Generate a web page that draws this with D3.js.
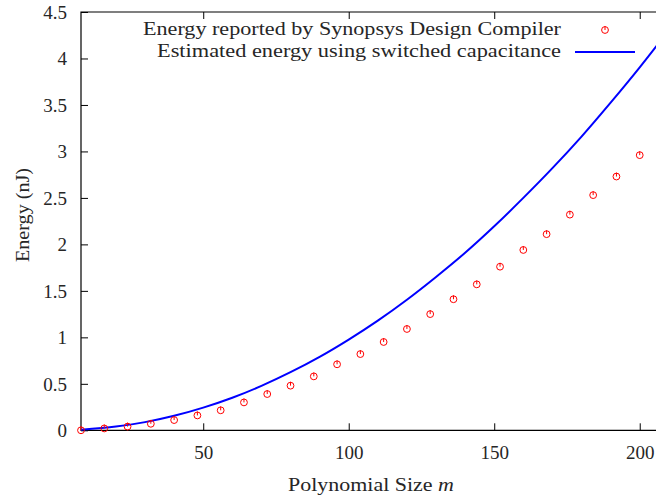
<!DOCTYPE html>
<html>
<head>
<meta charset="utf-8">
<script src="https://cdn.jsdelivr.net/npm/d3@7/dist/d3.min.js"></script>
<style>
  html, body { margin: 0; padding: 0; background: #fff; }
  svg { display: block; }
  text { font-family: "Liberation Serif", "DejaVu Serif", serif; fill: #262626; }
</style>
</head>
<body>
<svg id="chart" width="656" height="499"></svg>
<script>
// Polynomial size m for each synthesised design
const sizeM = [8, 16, 24, 32, 40, 48, 56, 64, 72, 80, 88, 96, 104, 112, 120,
               128, 136, 144, 152, 160, 168, 176, 184, 192, 200];
// Energy reported by Synopsys Design Compiler (nJ)
const compilerEnergy = [0.00, 0.02, 0.04, 0.07, 0.11, 0.16, 0.215, 0.30, 0.39, 0.48,
                        0.58, 0.71, 0.82, 0.95, 1.09, 1.25, 1.41, 1.57, 1.76, 1.94,
                        2.11, 2.32, 2.53, 2.73, 2.96];
// Estimated energy from switched capacitance (nJ)
const estimateM = [8, 20, 30, 40, 50, 60, 70, 80, 90, 100, 110, 120, 130, 140,
                   150, 160, 170, 180, 190, 200, 208];
const estimateEnergy = [0.006, 0.04, 0.088, 0.156, 0.244, 0.35, 0.478, 0.625, 0.79, 0.976,
                        1.18, 1.405, 1.65, 1.91, 2.195, 2.50, 2.82, 3.16, 3.525, 3.905, 4.225];
const xTicks = [50, 100, 150, 200];
const yTicks = [0, 0.5, 1, 1.5, 2, 2.5, 3, 3.5, 4, 4.5];
const yTickLabels = ["0", "0.5", "1", "1.5", "2", "2.5", "3", "3.5", "4", "4.5"];
const legendLabels = ["Energy reported by Synopsys Design Compiler",
                      "Estimated energy using switched capacitance"];

const svg = d3.select("#chart");
const plotLeft = 81, plotRight = 663, plotTop = 12, plotBottom = 430.3;

const x = d3.scaleLinear().domain([8, 208]).range([plotLeft, plotRight]);
const y = d3.scaleLinear().domain([0, 4.5]).range([plotBottom, plotTop]);

const fontSize = 18;
const tickFont = 19;
const tickLen = 7;

// frame
svg.append("path")
  .attr("d", `M${plotRight},${plotTop}H${plotLeft}V${plotBottom}H${plotRight}`)
  .attr("fill", "none").attr("stroke", "#000").attr("stroke-width", 1.2);

// y axis (inward ticks)
const yAxis = d3.axisLeft(y).tickValues(yTicks)
  .tickFormat((d, i) => yTickLabels[i]).tickSize(-tickLen).tickPadding(14);
const gy = svg.append("g").attr("transform", `translate(${plotLeft},0)`).call(yAxis);
gy.select(".domain").remove();
gy.selectAll(".tick line").attr("stroke", "#000");
gy.selectAll(".tick text").attr("font-size", tickFont).attr("font-family", null)
  .attr("fill", "#262626").attr("dy", "0.34em");

// x axis bottom (inward ticks)
const xAxis = d3.axisBottom(x).tickValues(xTicks).tickFormat(d3.format("d"))
  .tickSize(-tickLen).tickPadding(15);
const gx = svg.append("g").attr("transform", `translate(0,${plotBottom})`).call(xAxis);
gx.select(".domain").remove();
gx.selectAll(".tick line").attr("stroke", "#000");
gx.selectAll(".tick text").attr("font-size", tickFont).attr("font-family", null)
  .attr("fill", "#262626");

// mirrored ticks on the top border
const gxt = svg.append("g").attr("transform", `translate(0,${plotTop})`)
  .call(d3.axisTop(x).tickValues(xTicks).tickSize(-tickLen).tickFormat(""));
gxt.select(".domain").remove();
gxt.selectAll(".tick line").attr("stroke", "#000");

// axis titles
const xt = svg.append("text").attr("x", 371).attr("y", 491)
  .attr("text-anchor", "middle").attr("font-size", fontSize + 1)
  .attr("textLength", 166).attr("lengthAdjust", "spacingAndGlyphs");
xt.append("tspan").text("Polynomial Size ");
xt.append("tspan").attr("font-style", "italic").text("m");

svg.append("text")
  .attr("transform", "translate(29,215) rotate(-90)")
  .attr("text-anchor", "middle").attr("font-size", fontSize + 1)
  .attr("textLength", 94).attr("lengthAdjust", "spacingAndGlyphs")
  .text("Energy (nJ)");

// estimated energy curve
const plot = svg.append("g");
const line = d3.line().x(d => x(d[0])).y(d => y(d[1])).curve(d3.curveCatmullRom.alpha(0.5));
plot.append("path")
  .datum(estimateM.map((m, i) => [m, estimateEnergy[i]]))
  .attr("d", line)
  .attr("fill", "none").attr("stroke", "#0000ff").attr("stroke-width", 2);

// marker: open circle with a short vertical stroke
function marker(g, cx, cy) {
  const r = 3.4;
  g.append("circle").attr("cx", cx).attr("cy", cy).attr("r", r)
    .attr("fill", "none").attr("stroke", "#ff0000").attr("stroke-width", 1);
  g.append("line").attr("x1", cx).attr("x2", cx).attr("y1", cy).attr("y2", cy - r - 0.5)
    .attr("stroke", "#ff0000").attr("stroke-width", 1);
}

const pts = plot.append("g");
sizeM.forEach((m, i) => marker(pts, x(m), y(compilerEnergy[i])));

// legend
const legend = svg.append("g");
legend.append("text").attr("x", 561).attr("y", 35).attr("text-anchor", "end")
  .attr("font-size", fontSize).attr("textLength", 418).attr("lengthAdjust", "spacingAndGlyphs")
  .text(legendLabels[0]);
marker(legend, 605, 30);
legend.append("text").attr("x", 561).attr("y", 57).attr("text-anchor", "end")
  .attr("font-size", fontSize).attr("textLength", 404).attr("lengthAdjust", "spacingAndGlyphs")
  .text(legendLabels[1]);
legend.append("line").attr("x1", 575).attr("x2", 635).attr("y1", 52).attr("y2", 52)
  .attr("stroke", "#0000ff").attr("stroke-width", 2);
</script>
</body>
</html>
